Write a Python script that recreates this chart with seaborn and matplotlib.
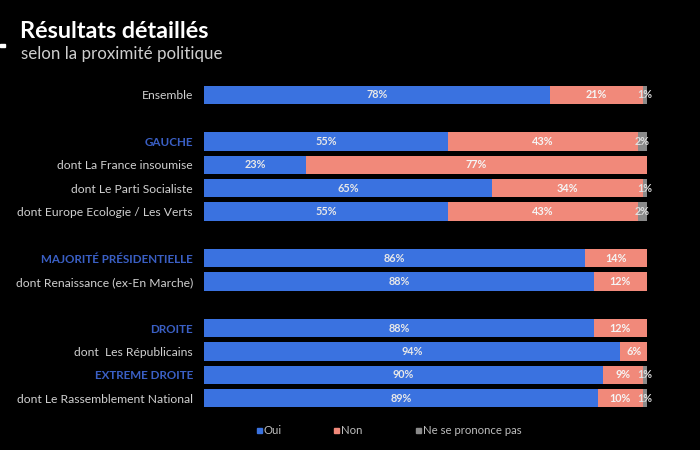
import matplotlib
matplotlib.use("Agg")
import matplotlib.pyplot as plt
import seaborn as sns
import pandas as pd

groupes = ["Ensemble", "GAUCHE", "dont La France insoumise", "dont Le Parti Socialiste",
           "dont Europe Ecologie / Les Verts", "MAJORITÉ PRÉSIDENTIELLE",
           "dont Renaissance (ex-En Marche)", "DROITE", "dont  Les Républicains",
           "EXTREME DROITE", "dont Le Rassemblement National"]
oui = [78, 55, 23, 65, 55, 86, 88, 88, 94, 90, 89]
non = [21, 43, 77, 34, 43, 14, 12, 12, 6, 9, 10]
nsp = [1, 2, 0, 1, 2, 0, 0, 0, 0, 1, 1]
entetes = ["GAUCHE", "MAJORITÉ PRÉSIDENTIELLE", "DROITE", "EXTREME DROITE"]
series = ["Oui", "Non", "Ne se prononce pas"]

BLUE = "#3a72e0"
SALMON = "#f1897a"
GRAY = "#8a8a8a"
HEAD = "#3a5fc4"
TXT = "#d0d0d0"

df = pd.DataFrame({"groupe": groupes, "oui": oui, "non": non, "nsp": nsp})
df["cum_non"] = df["oui"] + df["non"]
df["total"] = df["cum_non"] + df["nsp"]

# category order with empty spacer slots between blocks
gaps_after = {"Ensemble": " ", "dont Europe Ecologie / Les Verts": "  ",
              "dont Renaissance (ex-En Marche)": "   "}
order = []
for g in groupes:
    order.append(g)
    if g in gaps_after:
        order.append(gaps_after[g])

sns.set_theme(style="white")
plt.rcParams["font.family"] = ["Lato", "DejaVu Sans"]

fig = plt.figure(figsize=(7, 4.5), dpi=100, facecolor="black")
ax = fig.add_axes([204/700, 1 - 409.7/450, 443/700, (409.7 - 83.3)/450])
ax.set_facecolor("black")

bw = 0.78
sns.barplot(data=df, x="total", y="groupe", order=order, color=GRAY, width=bw,
            saturation=1, linewidth=0, ax=ax, orient="h")
sns.barplot(data=df, x="cum_non", y="groupe", order=order, color=SALMON, width=bw,
            saturation=1, linewidth=0, ax=ax, orient="h")
sns.barplot(data=df, x="oui", y="groupe", order=order, color=BLUE, width=bw,
            saturation=1, linewidth=0, ax=ax, orient="h")

ax.set_xlim(0, 100)
ax.set_xlabel("")
ax.set_ylabel("")
ax.set_xticks([])
for s in ax.spines.values():
    s.set_visible(False)

# y tick labels styling
ax.tick_params(axis="y", length=0, pad=8)
labels = [lab.get_text() for lab in ax.get_yticklabels()]
ax.set_yticklabels(labels)
for lab in ax.get_yticklabels():
    t = lab.get_text()
    if t in entetes:
        lab.set_color(HEAD)
        lab.set_fontweight("bold")
        lab.set_fontsize(8.4)
    else:
        lab.set_color(TXT)
        lab.set_fontsize(8.7)

# value labels
pos = {g: i for i, g in enumerate(order)}
for _, r in df.iterrows():
    y = pos[r["groupe"]]
    if r["oui"] > 0:
        ax.text(r["oui"] / 2, y, f"{r['oui']}%", ha="center", va="center",
                color="#e8e8e8", fontsize=7.8, fontweight="bold")
    if r["non"] > 0:
        ax.text(r["oui"] + r["non"] / 2, y, f"{r['non']}%", ha="center", va="center",
                color="#f5f5f5", fontsize=7.8, fontweight="bold")
    if r["nsp"] > 0:
        ax.text(r["cum_non"] + r["nsp"] / 2, y, f"{r['nsp']}%", ha="center", va="center",
                color="#e0e0e0", fontsize=7.8, fontweight="bold", clip_on=False)

# title
fig.text(20/700, 1 - 32/450, "Résultats détaillés", color="white", fontsize=16.8,
         fontweight="bold", va="center", ha="left")
fig.text(21/700, 1 - 54/450, "selon la proximité politique", color="#cfcfcf",
         fontsize=12.2, va="center", ha="left")
fig.patches.append(plt.Rectangle((0/700, 1 - 47/450), 5/700, 3/450, color="white",
                                 transform=fig.transFigure, figure=fig))

# legend
leg_x = [257, 334, 416]
for x, name, c in zip(leg_x, series, [BLUE, SALMON, GRAY]):
    fig.patches.append(plt.Rectangle((x/700, 1 - 432.5/450), 4.5/700, 4.5/450, color=c,
                                     transform=fig.transFigure, figure=fig))
    fig.text((x + 7)/700, 1 - 430/450, name, color="#bdbdbd", fontsize=8.2,
             va="center", ha="left")

fig.savefig("out.png", dpi=100, facecolor="black")
